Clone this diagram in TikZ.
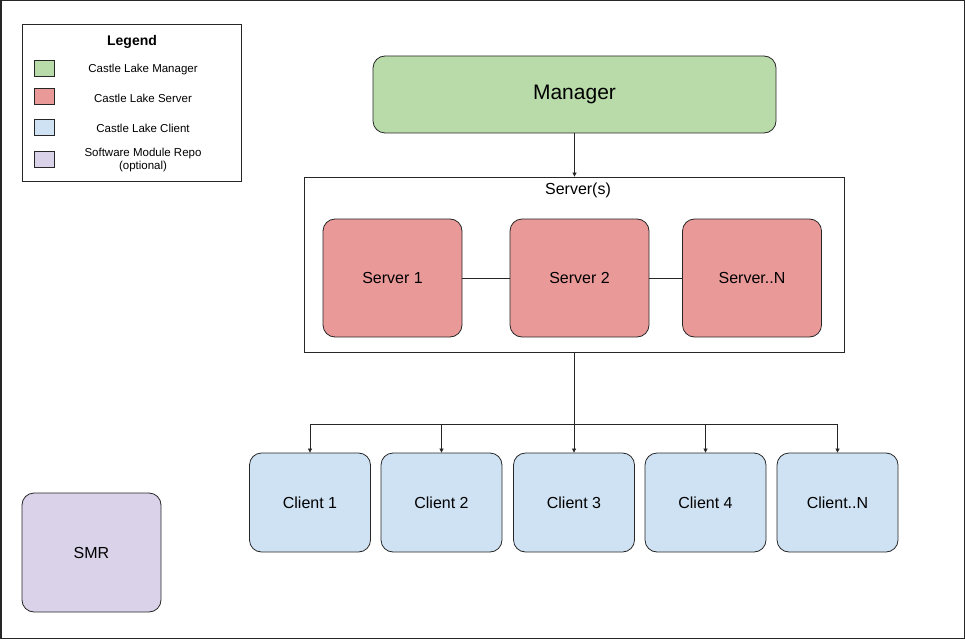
\documentclass[tikz,border=0pt]{standalone}
\usepackage{fontspec}
\setmainfont{Liberation Sans}
\usetikzlibrary{arrows.meta}
\definecolor{mgr}{HTML}{B9DBA9}
\definecolor{srv}{HTML}{EA9999}
\definecolor{cli}{HTML}{CFE2F3}
\definecolor{smr}{HTML}{D9D2E9}
\begin{document}
\begin{tikzpicture}[x=1pt,y=-1pt,
  box/.style={draw=black!85,line width=0.8pt,rounded corners=12pt},
  sw/.style={draw=black!85,line width=0.7pt,minimum width=20pt,minimum height=16pt,inner sep=0pt},
  lt/.style={font=\fontsize{11.5}{13}\selectfont,align=center},
  con/.style={draw=black!85,line width=0.7pt},
  arr/.style={con,-{Triangle[length=4pt,width=4pt]}}]
\useasboundingbox (0,0) rectangle (965,639);
\draw[line width=1.5pt,black!85] (0.75,0.75) rectangle (964.25,638.25);
% legend
\node[draw=black!85,line width=0.8pt,minimum width=219pt,minimum height=157pt,inner sep=0pt] (leg) at (131.5,102.5) {};
\node[font=\bfseries\fontsize{14}{16}\selectfont] (legt) at (132,42) {Legend};
\node[sw,fill=mgr] (s1) at (44,68) {};
\node[sw,fill=srv] (s2) at (44,96) {};
\node[sw,fill=cli] (s3) at (44,127) {};
\node[sw,fill=smr] (s4) at (44,159) {};
\node[lt] (l1) at (143,70) {Castle Lake Manager};
\node[lt] (l2) at (143,98) {Castle Lake Server};
\node[lt] (l3) at (143,128) {Castle Lake Client};
\node[lt] (l4) at (143,160) {Software Module Repo\\(optional)};
% manager
\node[box,fill=mgr,minimum width=403pt,minimum height=77pt,font=\fontsize{21}{24}\selectfont] (man) at (574.5,94.5) {Manager};
% server container
\node[draw=black!85,line width=0.8pt,minimum width=540pt,minimum height=175pt,inner sep=0pt] (cont) at (574,264.5) {};
\node[font=\fontsize{16}{18}\selectfont] (contl) at (578,190) {Server(s)};
\tikzset{sv/.style={box,fill=srv,minimum width=139pt,minimum height=118pt,font=\fontsize{16}{18}\selectfont}}
\node[sv] (sv1) at (392.5,278) {Server 1};
\node[sv] (sv2) at (579.5,278) {Server 2};
\node[sv] (svn) at (752,278) {Server..N};
\draw[con] (sv1) -- (sv2);
\draw[con] (sv2) -- (svn);
\draw[arr] (man) -- (man |- cont.north);
% clients
\tikzset{cl/.style={box,fill=cli,minimum width=121pt,minimum height=99pt,font=\fontsize{16}{18}\selectfont}}
\node[cl] (c1) at (310,502.5) {Client 1};
\node[cl] (c2) at (441.5,502.5) {Client 2};
\node[cl] (c3) at (574,502.5) {Client 3};
\node[cl] (c4) at (705.5,502.5) {Client 4};
\node[cl] (cn) at (837.5,502.5) {Client..N};
\coordinate (bus) at (574,424);
\draw[con] (cont.south) -- (bus);
\draw[con] (c1.north |- bus) -- (cn.north |- bus);
\foreach \c in {c1,c2,c3,c4,cn} \draw[arr] (\c.north |- bus) -- (\c.north);
% SMR
\node[box,fill=smr,minimum width=139pt,minimum height=119pt,font=\fontsize{16}{18}\selectfont] (smr) at (91.5,552.5) {SMR};
\end{tikzpicture}
\end{document}
